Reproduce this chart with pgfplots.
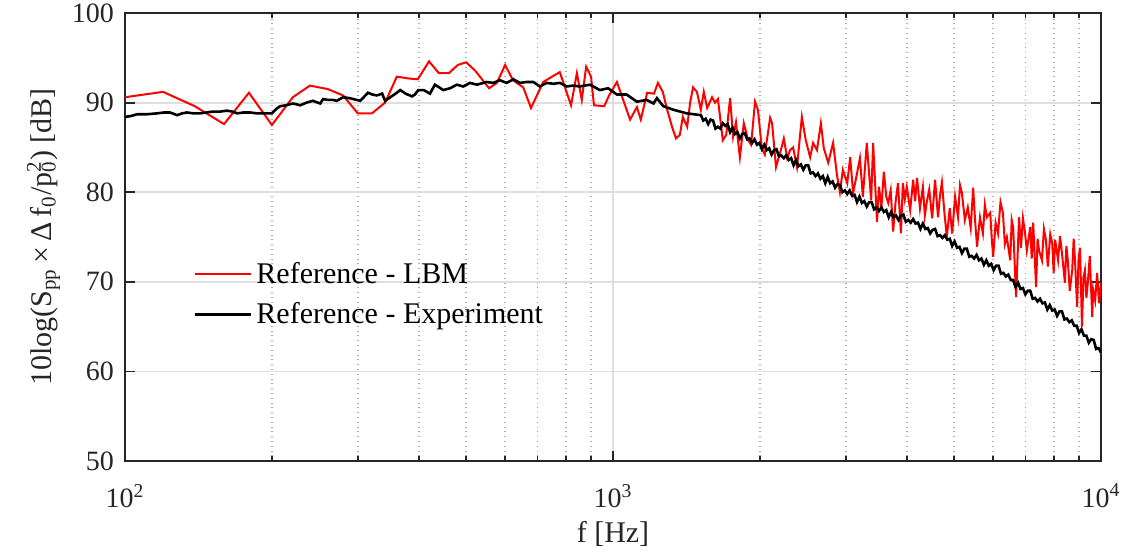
\documentclass[border=0pt]{standalone}
\usepackage{fontspec}
\setmainfont{Liberation Serif}
\usepackage{pgfplots}
\pgfplotsset{compat=1.18}
\definecolor{axgray}{RGB}{38,38,38}
\definecolor{gridgray}{RGB}{222,222,222}
\definecolor{mgridgray}{RGB}{175,175,175}
\begin{document}
\begin{tikzpicture}
\begin{axis}[
  scale only axis, width=488pt, height=224pt,
  xmin=2, xmax=4, ymin=50, ymax=100,
  xtick={2,3,4},
  xticklabels={10\textsuperscript{2},10\textsuperscript{3},10\textsuperscript{4}},
  minor xtick={2.30103,2.47712,2.60206,2.69897,2.77815,2.84510,2.90309,2.95424,3.30103,3.47712,3.60206,3.69897,3.77815,3.84510,3.90309,3.95424},
  ytick={50,60,70,80,90,100},
  /pgf/number format/assume math mode=true,
  tick align=inside, tick pos=both,
  major tick length=5pt, minor tick length=2.5pt,
  grid=both,
  major grid style={gridgray, line width=0.9pt},
  minor grid style={mgridgray, dotted, line width=0.9pt},
  axis line style={axgray, line width=0.9pt},
  every tick/.style={axgray, line width=0.9pt},
  tick label style={font=\fontsize{14}{16}\selectfont, text=axgray},
  xticklabel style={yshift=-8pt},
  yticklabel style={xshift=-2pt},
  label style={font=\fontsize{15}{17}\selectfont, text=axgray},
  xlabel style={yshift=0pt},
  ylabel style={yshift=-1pt},
  xlabel={f [Hz]},
  ylabel={10log(S\textsubscript{pp}\,×\,Δ\,f\textsubscript{0}/p\rlap{\textsuperscript{2}}\textsubscript{0}) [dB]},
  legend style={draw=none, fill=none, at={(0.064,0.462)}, anchor=north west, font=\fontsize{15}{18}\selectfont, row sep=4pt},
  legend cell align=left,
  legend image code/.code={\draw[#1] (0pt,0pt) -- (28pt,0pt);},
]
\addplot[red, line width=1pt] coordinates {
(2.000,90.6) (2.078,91.2) (2.143,89.6) (2.203,87.6) (2.254,91.1) (2.301,87.5)
(2.344,90.6) (2.379,91.9) (2.416,91.5) (2.447,90.8) (2.477,88.8) (2.506,88.8)
(2.533,90.0) (2.557,92.9) (2.580,92.7) (2.600,92.6) (2.623,94.6) (2.643,93.3)
(2.664,93.3) (2.682,94.2) (2.699,94.5) (2.717,93.6) (2.746,91.6) (2.762,92.2)
(2.779,94.2) (2.795,92.5) (2.816,91.7) (2.832,89.4) (2.857,92.3) (2.875,92.9)
(2.891,93.4) (2.914,89.7) (2.926,93.3) (2.936,90.3) (2.945,94.0) (2.955,92.9)
(2.961,89.7) (2.982,89.6) (2.992,90.8) (3.008,92.3) (3.035,88.1) (3.049,89.5)
(3.057,88.1) (3.070,91.1) (3.084,91.0) (3.092,92.2) (3.102,91.2) (3.111,89.2)
(3.121,87.3) (3.129,86.0) (3.137,86.4) (3.143,88.4) (3.152,87.3) (3.158,90.0)
(3.164,91.7) (3.172,91.2) (3.180,89.2) (3.186,91.2) (3.193,89.4) (3.203,90.6)
(3.209,90.0) (3.215,90.4) (3.225,85.8) (3.232,86.4) (3.240,90.5) (3.246,86.2)
(3.252,87.8) (3.260,83.9) (3.268,87.7) (3.277,85.8) (3.283,85.3) (3.291,90.1)
(3.297,89.2) (3.305,84.9) (3.311,84.2) (3.322,88.3) (3.326,87.7) (3.334,82.8)
(3.344,84.7) (3.350,86.0) (3.357,83.8) (3.363,84.7) (3.369,85.0) (3.377,82.8)
(3.387,88.4) (3.395,85.8) (3.404,83.9) (3.410,85.5) (3.418,84.7) (3.426,87.7)
(3.432,84.9) (3.441,83.3) (3.451,85.5) (3.459,81.9) (3.465,80.0) (3.471,82.5)
(3.480,81.0) (3.486,83.9) (3.492,79.9) (3.500,82.1) (3.506,83.8) (3.512,79.5)
(3.520,85.5) (3.529,79.1) (3.533,85.5) (3.541,76.7) (3.545,80.6) (3.550,78.3)
(3.555,82.3) (3.560,79.5) (3.564,78.8) (3.569,80.2) (3.574,75.6) (3.579,78.9)
(3.584,81.0) (3.590,75.4) (3.594,81.0) (3.598,79.2) (3.602,80.6) (3.609,78.0)
(3.615,81.4) (3.619,79.0) (3.623,81.6) (3.629,78.2) (3.635,80.6) (3.639,77.4)
(3.643,78.9) (3.648,80.3) (3.654,77.1) (3.660,81.4) (3.666,77.2) (3.670,79.6)
(3.674,81.1) (3.679,77.8) (3.684,75.0) (3.690,78.2) (3.695,75.4) (3.701,79.5)
(3.707,77.2) (3.711,80.8) (3.715,79.9) (3.721,76.9) (3.727,78.3) (3.733,76.0)
(3.738,80.5) (3.742,76.8) (3.746,73.9) (3.752,77.2) (3.758,75.4) (3.762,78.6)
(3.766,77.2) (3.773,77.7) (3.776,74.9) (3.779,72.8) (3.784,76.6) (3.789,75.4)
(3.794,78.9) (3.799,77.7) (3.803,74.2) (3.807,75.0) (3.814,72.4) (3.817,76.9)
(3.820,76.1) (3.826,68.3) (3.832,77.2) (3.836,73.8) (3.840,77.1) (3.844,75.6)
(3.848,73.5) (3.855,76.1) (3.858,72.6) (3.861,76.6) (3.867,69.4) (3.870,74.8)
(3.873,73.5) (3.879,72.4) (3.883,75.9) (3.887,74.7) (3.891,71.7) (3.896,75.3)
(3.900,74.3) (3.903,71.0) (3.906,74.7) (3.912,72.4) (3.916,75.1) (3.920,73.2)
(3.926,69.9) (3.929,74.0) (3.932,72.4) (3.936,69.0) (3.941,71.3) (3.944,74.8)
(3.947,72.1) (3.951,67.2) (3.954,72.6) (3.957,73.8) (3.961,65.0) (3.964,70.5)
(3.967,71.3) (3.970,68.2) (3.973,69.9) (3.977,72.9) (3.982,66.1) (3.984,69.1)
(3.988,67.9) (3.992,71.0) (3.996,67.6) (4.000,69.9)
};
\addlegendentry{Reference - LBM}
\addplot[black, line width=1.3pt] coordinates {
(2.000,88.4) (2.012,88.5) (2.025,88.7) (2.045,88.7) (2.066,88.8) (2.080,88.9)
(2.092,88.9) (2.107,88.6) (2.117,88.8) (2.127,88.9) (2.140,88.8) (2.154,88.8)
(2.167,88.9) (2.180,89.0) (2.195,89.0) (2.209,89.1) (2.220,89.0) (2.230,88.8)
(2.243,88.9) (2.256,88.9) (2.270,88.8) (2.283,88.8) (2.301,88.8) (2.310,89.3)
(2.318,89.6) (2.330,89.7) (2.344,89.9) (2.352,89.8) (2.359,89.7) (2.372,90.0)
(2.385,90.2) (2.400,89.9) (2.406,90.4) (2.416,90.3) (2.426,90.3) (2.434,90.2)
(2.447,90.6) (2.460,90.5) (2.475,90.3) (2.482,90.2) (2.498,91.1) (2.507,90.9)
(2.516,90.8) (2.527,91.0) (2.533,90.2) (2.541,90.5) (2.549,90.8) (2.557,91.1)
(2.564,91.4) (2.575,91.0) (2.588,90.7) (2.594,90.9) (2.601,91.4) (2.612,91.4)
(2.625,91.0) (2.635,92.0) (2.644,91.7) (2.652,91.4) (2.666,91.6) (2.680,92.0)
(2.693,91.8) (2.707,92.2) (2.721,92.0) (2.741,92.3) (2.755,92.2) (2.768,92.5)
(2.782,92.2) (2.796,92.6) (2.809,92.2) (2.823,92.3) (2.837,92.3) (2.850,91.8)
(2.864,92.2) (2.878,92.1) (2.891,92.2) (2.905,91.8) (2.918,91.9) (2.932,91.8)
(2.953,92.0) (2.973,91.4) (2.990,91.6) (3.008,90.9) (3.028,90.9) (3.049,90.1)
(3.069,90.3) (3.083,89.9) (3.090,90.5) (3.103,89.6) (3.124,89.2) (3.151,88.8)
(3.180,88.6) (3.185,88.0) (3.190,88.2) (3.195,87.6) (3.200,88.1) (3.205,88.0)
(3.210,87.1) (3.215,87.3) (3.220,87.1) (3.225,87.7) (3.230,87.4) (3.235,87.6)
(3.240,86.7) (3.245,87.2) (3.250,86.5) (3.255,86.7) (3.260,86.0) (3.265,86.5)
(3.270,86.6) (3.275,85.9) (3.280,86.0) (3.285,85.5) (3.290,85.9) (3.295,85.3)
(3.300,85.5) (3.305,84.8) (3.310,85.3) (3.315,84.7) (3.320,84.9) (3.325,84.2)
(3.330,84.7) (3.335,84.8) (3.340,84.0) (3.345,84.1) (3.350,83.8) (3.355,84.1)
(3.360,83.6) (3.365,83.8) (3.370,83.0) (3.375,83.6) (3.380,82.9) (3.385,83.1)
(3.390,82.5) (3.395,83.0) (3.400,83.0) (3.405,82.1) (3.410,82.2) (3.415,81.8)
(3.420,82.1) (3.425,81.5) (3.430,81.8) (3.435,81.0) (3.440,81.7) (3.445,81.0)
(3.450,81.2) (3.455,80.5) (3.460,80.9) (3.465,80.8) (3.470,80.0) (3.475,80.2)
(3.480,79.8) (3.485,80.2) (3.490,79.6) (3.495,79.7) (3.500,78.9) (3.505,79.5)
(3.510,78.8) (3.515,79.0) (3.520,78.4) (3.525,78.9) (3.530,78.9) (3.535,78.1)
(3.540,78.3) (3.545,77.9) (3.550,78.3) (3.555,77.8) (3.560,78.0) (3.565,77.2)
(3.570,77.8) (3.575,77.2) (3.580,77.4) (3.585,76.9) (3.590,77.4) (3.595,77.5)
(3.600,76.7) (3.605,76.9) (3.610,76.6) (3.615,77.0) (3.620,76.5) (3.625,76.6)
(3.630,75.9) (3.635,76.5) (3.640,75.9) (3.645,76.0) (3.650,75.4) (3.655,75.8)
(3.660,75.9) (3.665,75.1) (3.670,75.2) (3.675,74.9) (3.680,75.2) (3.685,74.7)
(3.690,74.8) (3.695,74.0) (3.700,74.5) (3.705,73.8) (3.710,73.9) (3.715,73.2)
(3.720,73.7) (3.725,73.7) (3.730,72.8) (3.735,72.9) (3.740,72.6) (3.745,73.0)
(3.750,72.4) (3.755,72.6) (3.760,71.9) (3.765,72.4) (3.770,71.8) (3.775,72.0)
(3.780,71.3) (3.785,71.8) (3.790,71.8) (3.795,70.9) (3.800,71.0) (3.805,70.6)
(3.810,70.8) (3.815,70.2) (3.820,70.2) (3.825,69.4) (3.830,69.9) (3.835,69.2)
(3.840,69.3) (3.845,68.6) (3.850,69.0) (3.855,69.0) (3.860,68.1) (3.865,68.2)
(3.870,67.8) (3.875,68.1) (3.880,67.6) (3.885,67.7) (3.890,66.9) (3.895,67.4)
(3.900,66.8) (3.905,66.9) (3.910,66.2) (3.915,66.7) (3.920,66.7) (3.925,65.8)
(3.930,65.9) (3.935,65.5) (3.940,65.7) (3.945,65.1) (3.950,65.1) (3.955,64.3)
(3.960,64.7) (3.965,64.0) (3.970,64.0) (3.975,63.2) (3.980,63.6) (3.985,63.5)
(3.990,62.5) (3.995,62.6) (4.000,62.1)
};
\addlegendentry{Reference - Experiment}
\end{axis}
\pgfresetboundingbox
\path[use as bounding box] ([xshift=-62.5pt,yshift=-46pt]current axis.south west) rectangle ([xshift=13.5pt,yshift=6.5pt]current axis.north east);
\end{tikzpicture}
\end{document}
